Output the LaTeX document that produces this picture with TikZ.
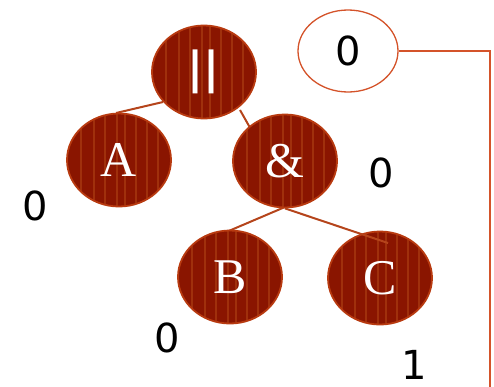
\documentclass[tikz,border=0pt]{standalone}
\usepackage{fontspec}
\newfontfamily\digitfont{DejaVu Sans}
\newfontfamily\letterfont{Liberation Serif}
\usetikzlibrary{shapes.geometric}
\definecolor{nodefill}{HTML}{8A1500}
\definecolor{nodestripe}{HTML}{A0300C}
\definecolor{nodeline}{HTML}{B83A10}
\definecolor{edgecol}{HTML}{B5441B}
\definecolor{ovalline}{HTML}{D4532A}
\tikzset{
  treenode/.style={ellipse, draw=nodeline, line width=1.8pt, fill=nodefill,
    minimum width=104pt, minimum height=93pt, inner sep=0pt, text=white,
    font=\letterfont\fontsize{50}{50}\selectfont,
    path picture={
      \foreach \s in {14,27,38,50,58,69,80,91}
        \draw[nodestripe, line width=2pt]
          ([xshift=\s pt]path picture bounding box.south west) --
          ([xshift=\s pt]path picture bounding box.north west);
    }},
  edge/.style={draw=edgecol, line width=2pt},
  numlabel/.style={font=\digitfont\fontsize{40}{40}\selectfont, text=black, inner sep=0pt},
  oval/.style={ellipse, draw=ovalline, line width=1.3pt, fill=white,
    minimum width=100pt, minimum height=82pt, inner sep=0pt,
    font=\digitfont\fontsize{40}{40}\selectfont},
  link/.style={draw=ovalline, line width=2.2pt}
}
\begin{document}
\begin{tikzpicture}[x=1pt,y=-1pt]
\useasboundingbox (0,0) rectangle (494,386);
\coordinate (orA) at (163,102);
\coordinate (orB) at (240,110);
\coordinate (aT) at (116,113);
\coordinate (andT) at (253,133);
\coordinate (andB) at (285,207);
\coordinate (bT) at (224,233);
\coordinate (cIn) at (388,243);
\coordinate (corner) at (490,51);
\coordinate (bottom) at (490,390);
\draw[edge] (orA) -- (aT);
\draw[edge] (orB) -- (andT);
\draw[edge] (andB) -- (bT);
\node[treenode] (or) at (204,72) {\digitfont\bfseries\fontsize{44}{44}\selectfont ||};
\node[treenode] (A) at (119,160) {A};
\node[treenode] (and) at (285,161) {\&};
\node[treenode] (B) at (230,277) {B};
\node[treenode] (C) at (380,278) {C};
\draw[edge] (and.south) -- (cIn);
\node[oval] (zero) at (348,51) {0};
\draw[link] (zero.east) -- (corner) -- (bottom);
\node[numlabel] (l1) at (35,206) {0};
\node[numlabel] (l2) at (381,173) {0};
\node[numlabel] (l3) at (167,338) {0};
\node[numlabel] (l4) at (414,365) {1};
\end{tikzpicture}
\end{document}
